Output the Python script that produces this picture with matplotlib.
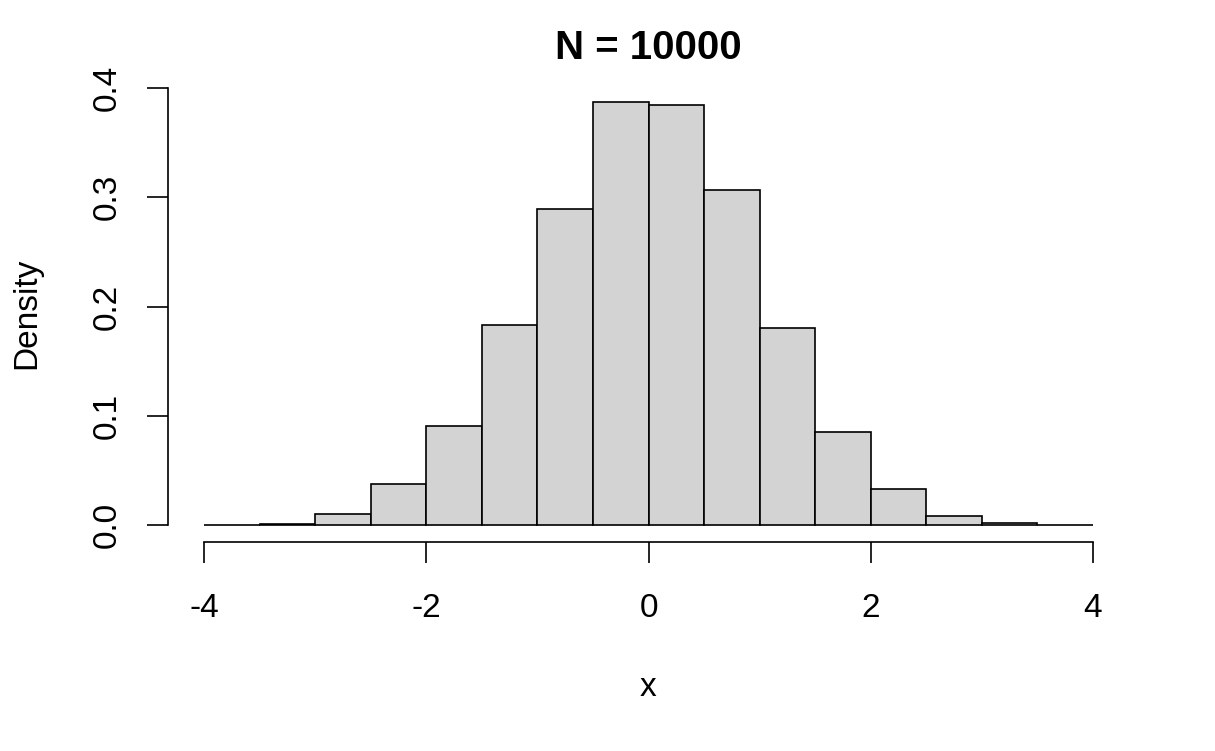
import numpy as np
import matplotlib.pyplot as plt

# Histogram of N = 10000 draws, density scale, bin width 0.5
edges = [-4.0, -3.5, -3.0, -2.5, -2.0, -1.5, -1.0, -0.5, 0.0,
         0.5, 1.0, 1.5, 2.0, 2.5, 3.0, 3.5, 4.0]
density = [0.0002, 0.0010, 0.0100, 0.0375, 0.0906, 0.1830, 0.2890, 0.3870,
           0.3848, 0.3066, 0.1800, 0.0852, 0.0330, 0.0084, 0.0020, 0.0002]
xticks = [-4, -2, 0, 2, 4]
yticks = [0.0, 0.1, 0.2, 0.3, 0.4]

plt.rcParams['font.family'] = ['Liberation Sans', 'DejaVu Sans']

fig = plt.figure(figsize=(12.15, 7.51), dpi=100)
ax = fig.add_axes([0.1386, 0.2783, 0.7903, 0.6081])

widths = np.diff(edges)
ax.bar(edges[:-1], density, width=widths, align='edge',
       color='#d3d3d3', edgecolor='black', linewidth=1.2)

# R-style 4% axis expansion
xr = edges[-1] - edges[0]
ax.set_xlim(edges[0] - 0.04 * xr, edges[-1] + 0.04 * xr)
ymax = max(density)
ax.set_ylim(-0.04 * ymax, 1.04 * ymax)

for s in ['top', 'right']:
    ax.spines[s].set_visible(False)
ax.spines['bottom'].set_bounds(xticks[0], xticks[-1])
ax.spines['left'].set_bounds(yticks[0], yticks[-1])
for s in ['bottom', 'left']:
    ax.spines[s].set_linewidth(1.2)

ax.set_xticks(xticks)
ax.set_xticklabels([str(t) for t in xticks])
ax.set_yticks(yticks)
ax.set_yticklabels(['%.1f' % t for t in yticks], rotation=90, va='center')
ax.tick_params(axis='both', length=15, width=1.2, labelsize=24)
ax.tick_params(axis='x', pad=22)
ax.tick_params(axis='y', pad=18)

ax.set_title('N = 10000', fontsize=29, fontweight='bold', pad=19)
ax.set_xlabel('x', fontsize=24)
ax.set_ylabel('Density', fontsize=24)
ax.xaxis.set_label_coords(648 / 1215, 1 - 688 / 751, transform=fig.transFigure)
ax.xaxis.label.set_va('center')
ax.yaxis.label.set_va('center')
ax.yaxis.set_label_coords(27 / 1215, 1 - 313 / 751, transform=fig.transFigure)

fig.savefig('out.png', dpi=100)
